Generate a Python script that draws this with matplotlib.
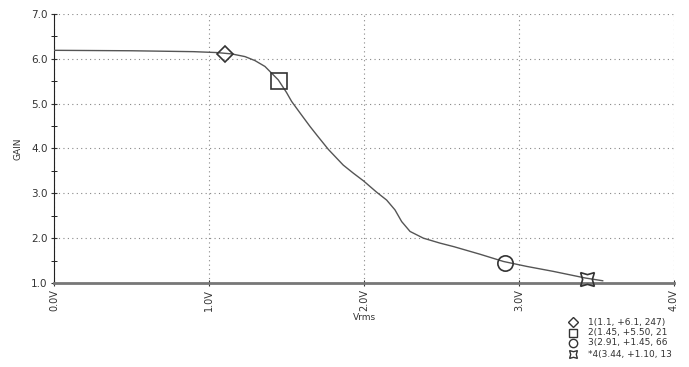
import matplotlib
matplotlib.use("Agg")
import matplotlib.pyplot as plt
from matplotlib.ticker import MultipleLocator, FormatStrFormatter

# curva GAIN vs Vrms
vrms = [0.0, 0.5, 0.9, 1.05, 1.146, 1.232, 1.297, 1.361, 1.404, 1.447, 1.50,
        1.533, 1.59, 1.652, 1.70, 1.77, 1.866, 1.931, 1.996, 2.08, 2.146, 2.20,
        2.243, 2.297, 2.383, 2.49, 2.58, 2.75, 2.90, 3.05, 3.22, 3.43, 3.54]
gain = [6.19, 6.18, 6.16, 6.14, 6.11, 6.05, 5.96, 5.83, 5.68, 5.53, 5.25,
        5.05, 4.78, 4.49, 4.28, 3.98, 3.63, 3.45, 3.28, 3.03, 2.85, 2.63,
        2.37, 2.15, 2.00, 1.89, 1.81, 1.64, 1.48, 1.37, 1.26, 1.11, 1.05]

# marker (cursori)
cur_x = [1.1, 1.45, 2.91, 3.44]
cur_y = [6.1, 5.50, 1.45, 1.10]
cur_labels = ["1(1.1, +6.1, 247)", "2(1.45, +5.50, 21", "3(2.91, +1.45, 66",
              "*4(3.44, +1.10, 13"]

x_ticks = [0.0, 1.0, 2.0, 3.0, 4.0]
y_ticks = [1.0, 2.0, 3.0, 4.0, 5.0, 6.0, 7.0]

fig = plt.figure(figsize=(6.89, 3.67), dpi=100)
ax = fig.add_axes([54 / 689, 1 - 283 / 367, 620 / 689, 269 / 367])

ax.plot(vrms, gain, color="#555555", lw=1.0, zorder=3)

styles = [dict(marker="D", ms=8), dict(marker="s", ms=12),
          dict(marker="o", ms=11), dict(marker=(4, 1, 45), ms=14)]
for x, y, st in zip(cur_x, cur_y, styles):
    ax.plot([x], [y], ls="none", mfc="none", mec="#333333", mew=1.2,
            zorder=4, clip_on=False, **st)

ax.set_xlim(0, 4)
ax.set_ylim(1, 7)
ax.set_xticks(x_ticks)
ax.set_yticks(y_ticks)
ax.xaxis.set_major_formatter(FormatStrFormatter("%.1fV"))
ax.yaxis.set_major_formatter(FormatStrFormatter("%.1f"))
ax.yaxis.set_minor_locator(MultipleLocator(0.5))
ax.tick_params(axis="x", labelrotation=90, labelsize=7, colors="#333333",
               direction="inout", length=5, pad=2)
ax.tick_params(axis="y", labelsize=7.5, colors="#333333",
               direction="inout", length=5, pad=2)
ax.tick_params(axis="y", which="minor", direction="inout", length=4)
ax.grid(True, color="#888888", ls=(0, (1, 3)), lw=0.8)

for s in ["top", "right"]:
    ax.spines[s].set_visible(False)
ax.spines["left"].set_color("#222222")
ax.spines["bottom"].set_color("#777777")
ax.spines["bottom"].set_linewidth(2)

ax.set_ylabel("GAIN", fontsize=6.5, color="#333333", labelpad=6)
ax.set_xlabel("Vrms", fontsize=6.5, color="#333333", labelpad=1)

# legenda dei cursori in basso a destra
leg_y = [322, 333, 343, 354]
leg_ms = [5, 6, 6, 8]
for yy, lab, st, ms in zip(leg_y, cur_labels, styles, leg_ms):
    fy = 1 - yy / 367
    fig.add_artist(plt.Line2D([573 / 689], [fy], marker=st["marker"], ms=ms,
                              mfc="none", mec="#333333", mew=1.0, ls="none",
                              transform=fig.transFigure))
    fig.text(588 / 689, fy, lab, fontsize=6.5, color="#333333", va="center",
             ha="left")

fig.savefig("out.png", dpi=100)
